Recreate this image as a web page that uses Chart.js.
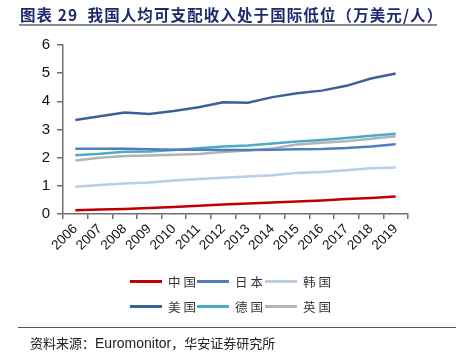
<!DOCTYPE html>
<html>
<head>
<meta charset="utf-8">
<script src="https://cdn.jsdelivr.net/npm/chart.js@4"></script>
<style>
  body { margin: 0; width: 456px; height: 353px; background: #fff; position: relative; overflow: hidden; font-family: "Noto Sans CJK SC", sans-serif; }
  #title { position: absolute; left: 20px; top: 3px; font-size: 15.5px; font-weight: bold; color: #1f2a6e; white-space: nowrap; letter-spacing: 1.1px; font-family: "Noto Sans CJK SC", serif; }
  #title-line { position: absolute; left: 19px; top: 24px; width: 418px; height: 2px; background: #8c8c8c; }
  #wrap { position: absolute; left: 0; top: 0; width: 456px; height: 353px; }
  .legend-item { position: absolute; display: flex; align-items: center; font-size: 12.5px; color: #333; letter-spacing: 3px; }
  .legend-item span.sw { display: inline-block; width: 32px; height: 3px; margin-right: 6px; }
  #source-line { position: absolute; left: 18px; top: 327px; width: 438px; height: 1px; background: #555; }
  #source { position: absolute; left: 30px; top: 333px; font-size: 13px; color: #222; white-space: nowrap; }
  #source .en { font-family: "Liberation Sans", Arial, sans-serif; font-size: 14px; }
</style>
</head>
<body>
<div id="wrap"><canvas id="chart" width="456" height="353"></canvas></div>
<div id="title">图表 29&nbsp; 我国人均可支配收入处于国际低位（万美元/人）</div>
<div id="title-line"></div>
<div id="legend"></div>
<div id="source-line"></div>
<div id="source">资料来源：<span class="en">Euromonitor</span>，华安证券研究所</div>
<script>
const years = ['2006','2007','2008','2009','2010','2011','2012','2013','2014','2015','2016','2017','2018','2019'];
const yTicks = [0, 1, 2, 3, 4, 5, 6];

const china   = [0.13, 0.16, 0.18, 0.21, 0.25, 0.29, 0.34, 0.37, 0.41, 0.44, 0.48, 0.53, 0.57, 0.62];
const japan   = [2.32, 2.32, 2.32, 2.30, 2.28, 2.28, 2.27, 2.27, 2.28, 2.30, 2.31, 2.34, 2.40, 2.48];
const korea   = [0.97, 1.03, 1.08, 1.12, 1.19, 1.24, 1.29, 1.33, 1.38, 1.46, 1.49, 1.55, 1.62, 1.65];
const usa     = [3.34, 3.47, 3.60, 3.55, 3.66, 3.79, 3.97, 3.95, 4.15, 4.29, 4.38, 4.55, 4.81, 4.99];
const germany = [2.09, 2.14, 2.21, 2.22, 2.27, 2.33, 2.40, 2.43, 2.50, 2.57, 2.63, 2.70, 2.78, 2.85];
const uk      = [1.90, 2.00, 2.06, 2.08, 2.10, 2.13, 2.20, 2.25, 2.33, 2.47, 2.53, 2.58, 2.67, 2.76];

const seriesNames = ['中国', '日本', '韩国', '美国', '德国', '英国'];
const seriesData = [china, japan, korea, usa, germany, uk];
const seriesColors = ['#c00000', '#4f7dbf', '#b9cde6', '#3b6199', '#4bacc6', '#b4b4b4'];

const datasets = seriesNames.map((name, i) => ({
    label: name,
    data: seriesData[i],
    borderColor: seriesColors[i],
    backgroundColor: seriesColors[i],
    borderWidth: 2.5,
    pointRadius: 0,
    tension: 0,
    fill: false
}));

// legend drawn as html, 3 per row like the original
const legendPos = [[130, 281], [197, 281], [265, 281], [130, 306], [197, 306], [265, 306]];
const legendEl = document.getElementById('legend');
seriesNames.forEach((name, i) => {
    const item = document.createElement('div');
    item.className = 'legend-item';
    item.style.left = legendPos[i][0] + 'px';
    item.style.top = (legendPos[i][1] - 9) + 'px';
    item.innerHTML = '<span class="sw" style="background:' + seriesColors[i] + '"></span>' + name;
    legendEl.appendChild(item);
});

const axisColor = '#6e6e6e';

new Chart(document.getElementById('chart').getContext('2d'), {
    type: 'line',
    data: { labels: years, datasets: datasets },
    options: {
        responsive: false,
        animation: false,
        layout: { padding: { top: 45, right: 48, bottom: 89, left: 0 } },
        plugins: { legend: { display: false }, tooltip: { enabled: false } },
        scales: {
            x: {
                offset: true,
                grid: { offset: true, drawOnChartArea: false, tickLength: 5, color: axisColor, lineWidth: 1.5 },
                border: { color: axisColor, width: 1.5 },
                ticks: {
                    minRotation: 45, maxRotation: 45, autoSkip: false,
                    color: '#111', padding: 2,
                    font: { family: '"Liberation Sans", Arial, sans-serif', size: 13.5 }
                },
                afterFit: function(scale) { scale.height = 50; }
            },
            y: {
                min: 0, max: 6,
                afterBuildTicks: function(scale) { scale.ticks = yTicks.map(v => ({ value: v })); },
                grid: { drawOnChartArea: false, tickLength: 6, color: axisColor, lineWidth: 1.5 },
                border: { color: axisColor, width: 1.5 },
                ticks: {
                    color: '#111', padding: 7,
                    font: { family: '"Liberation Sans", Arial, sans-serif', size: 15 }
                },
                afterFit: function(scale) { scale.width = 63; }
            }
        }
    }
});
</script>
</body>
</html>
